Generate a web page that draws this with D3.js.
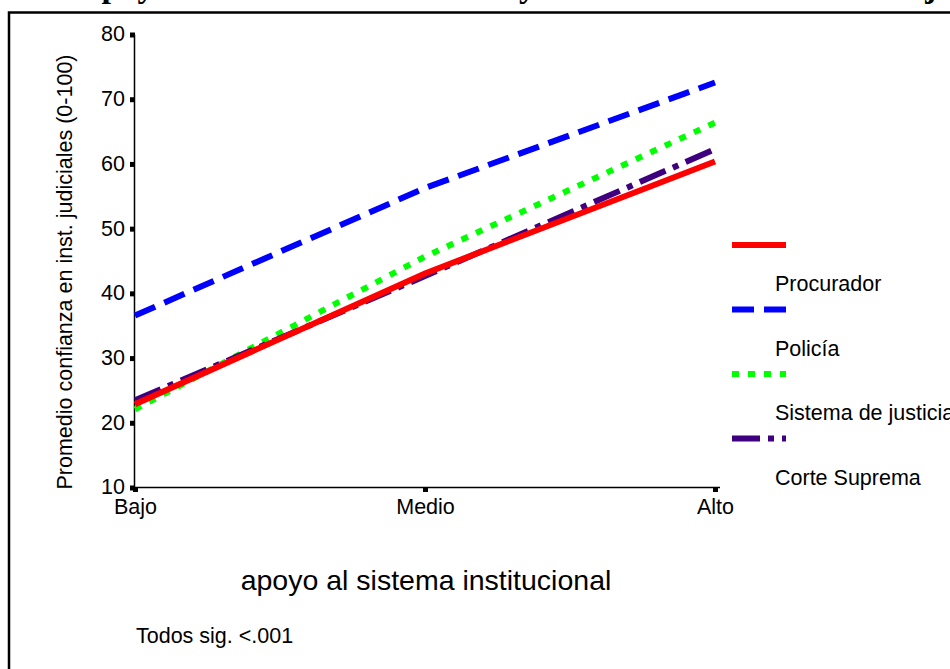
<!DOCTYPE html>
<html><head><meta charset="utf-8">
<script src="https://cdn.jsdelivr.net/npm/d3@7"></script>
<style>body{margin:0;background:#fff}svg{display:block}</style>
</head><body>
<script>
const categories = ["Bajo", "Medio", "Alto"];
const seriesNames = ["Procurador", "Policía", "Sistema de justicia", "Corte Suprema"];
const procurador = [22.8, 43.0, 60.3];
const policia = [36.5, 56.2, 72.5];
const sistema = [22.0, 45.6, 66.3];
const corte = [23.4, 42.6, 62.2];
const yTicks = [10, 20, 30, 40, 50, 60, 70, 80];
const colors = ["#ff0000", "#0000ff", "#00ff00", "#3f007f"];
const dashes = [null, "22,10", "7,9", "28,8,6,8"];
const title = "Apoyo al sistema institucional y confianza en instituciones judiciales";

const W = 950, H = 669;
const svg = d3.select("body").append("svg").attr("width", W).attr("height", H);
const font = "'Liberation Sans', Arial, sans-serif";
const fs = 21.5;

svg.append("text").attr("x", 570).attr("y", -3).attr("text-anchor", "middle")
  .attr("font-family", "'Liberation Serif', 'Times New Roman', serif").attr("font-weight", "bold")
  .attr("font-size", 34).text(title);

// frame
svg.append("path").attr("d", "M9,669 V12.5 H950").attr("fill", "none").attr("stroke", "#000").attr("stroke-width", 2.5);

const x = d3.scalePoint().domain(categories).range([135, 715]);
const y = d3.scaleLinear().domain([10, 80]).range([487, 34]);

// y axis
const ya = svg.append("g").attr("transform", "translate(134,0)")
  .call(d3.axisLeft(y).tickValues(yTicks).tickSize(0).tickPadding(9));
ya.select(".domain").attr("stroke", "#000").attr("stroke-width", 1.5);
ya.selectAll("text").attr("font-family", font).attr("font-size", fs).attr("fill", "#000");
ya.selectAll(".tick").append("rect").attr("x", -4).attr("y", -2).attr("width", 5).attr("height", 5).attr("fill", "#000");

// x axis
const xa = svg.append("g").attr("transform", "translate(0,487)")
  .call(d3.axisBottom(x).tickSize(0).tickPadding(12));
xa.select(".domain").attr("d", "M134,0.5H720").attr("stroke", "#000").attr("stroke-width", 1.5);
xa.selectAll("text").attr("font-family", font).attr("font-size", fs).attr("fill", "#000");
xa.selectAll(".tick").append("rect").attr("x", -2.5).attr("y", 0).attr("width", 5).attr("height", 5).attr("fill", "#000");

// lines
const data = [procurador, policia, sistema, corte];
const line = d3.line().x((d, i) => x(categories[i])).y(d => y(d));
const order = [1, 2, 3, 0];
order.forEach(k => {
  svg.append("path").datum(data[k]).attr("d", line).attr("fill", "none")
    .attr("stroke", colors[k]).attr("stroke-width", 6)
    .attr("stroke-dasharray", dashes[k]);
});

// y label
svg.append("text").attr("transform", "translate(72,272) rotate(-90)").attr("text-anchor", "middle")
  .attr("font-family", font).attr("font-size", fs).text("Promedio confianza en inst. judiciales (0-100)");

// x title
svg.append("text").attr("x", 426).attr("y", 590).attr("text-anchor", "middle")
  .attr("font-family", font).attr("font-size", 28.5).text("apoyo al sistema institucional");

svg.append("text").attr("x", 136).attr("y", 643)
  .attr("font-family", font).attr("font-size", fs).text("Todos sig. <.001");

// legend
seriesNames.forEach((name, i) => {
  const ly = 245 + i * 64.5;
  svg.append("line").attr("x1", 732).attr("x2", 786).attr("y1", ly).attr("y2", ly)
    .attr("stroke", colors[i]).attr("stroke-width", 6).attr("stroke-dasharray", dashes[i]);
  svg.append("text").attr("x", 775).attr("y", ly + 46)
    .attr("font-family", font).attr("font-size", fs).text(name);
});
</script>
</body></html>
